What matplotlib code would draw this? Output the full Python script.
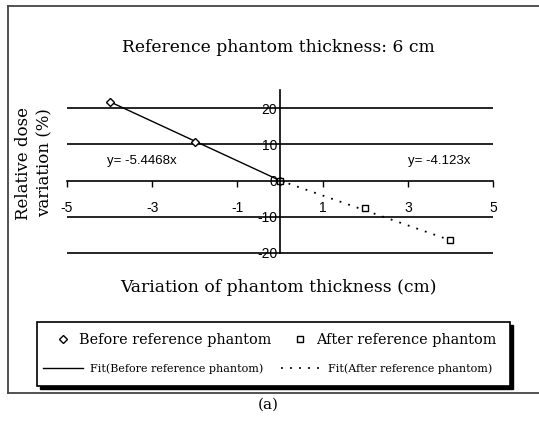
import matplotlib
matplotlib.use("Agg")
import numpy as np
import matplotlib.pyplot as plt
from matplotlib.patches import Rectangle
from matplotlib.lines import Line2D

# data
before_x = [-4, -2, 0]
before_y = [21.8, 10.6, 0]
after_x = [0, 2, 4]
after_y = [0, -7.7, -16.3]
slope_before = -5.4468
slope_after = -4.123
xticks = [-5, -3, -1, 1, 3, 5]
yticks = [-20, -10, 0, 10, 20]
gridlines = [-20, -10, 10, 20]

W, H = 539, 422
fig = plt.figure(figsize=(W / 100, H / 100), dpi=100)

def fx(px):
    return px / W

def fy(py):
    return 1 - py / H

serif = ['DejaVu Serif']
narrow = ['Liberation Sans', 'DejaVu Sans']

# outer border (left, top, bottom only)
fig.add_artist(Line2D([fx(8), 1.0], [fy(6), fy(6)], color='#444444', lw=1.3))
fig.add_artist(Line2D([fx(8), fx(8)], [fy(6), fy(393)], color='#444444', lw=1.3))
fig.add_artist(Line2D([fx(8), 1.0], [fy(393), fy(393)], color='#444444', lw=1.3))

ax = fig.add_axes([fx(67), fy(253), fx(493) - fx(67), fy(90) - fy(253)])
ax.set_xlim(-5, 5)
ax.set_ylim(-20, 25)

ax.spines['top'].set_visible(False)
ax.spines['right'].set_visible(False)
ax.spines['left'].set_position(('data', 0))
ax.spines['bottom'].set_position(('data', 0))
ax.spines['left'].set_linewidth(1.2)
ax.spines['bottom'].set_linewidth(1.2)
ax.patch.set_alpha(0)

ax.hlines(gridlines, -5, 5, color='black', lw=1.2, clip_on=False)

ax.set_xticks(xticks)
ax.set_xticklabels([str(t) for t in xticks], family=narrow, fontsize=10)
ax.tick_params(axis='x', direction='out', length=4, width=1, pad=11)
ax.set_yticks(yticks)
ax.set_yticklabels([str(t) for t in yticks], family=narrow, fontsize=10)
ax.tick_params(axis='y', length=0, pad=2)

# fits
xb = np.array([min(before_x), max(before_x)])
xa = np.array([min(after_x), max(after_x)])
fit_b, = ax.plot(xb, slope_before * xb, color='black', lw=1, clip_on=False)
fit_a, = ax.plot(xa, slope_after * xa, color='black', lw=1.3, ls=(0, (1, 4)), clip_on=False)
pts_b, = ax.plot(before_x, before_y, ls='none', marker='D', ms=4.5, mfc='white',
                 mec='black', mew=1, clip_on=False)
pts_a, = ax.plot(after_x, after_y, ls='none', marker='s', ms=4, mfc='white',
                 mec='black', mew=1, clip_on=False)

ax.text(-3.25, 5.5, 'y= -5.4468x', family=narrow, fontsize=9.5, ha='center', va='center')
ax.text(3.73, 5.3, 'y= -4.123x', family=narrow, fontsize=9.5, ha='center', va='center')

fig.text(fx(278), fy(47), 'Reference phantom thickness: 6 cm', family=serif,
         fontsize=12.3, ha='center', va='center')
fig.text(fx(278), fy(287), 'Variation of phantom thickness (cm)', family=serif,
         fontsize=12.3, ha='center', va='center')
fig.text(fx(34), fy(163), 'Relative dose\nvariation (%)', family=serif, fontsize=12,
         ha='center', va='center', rotation=90, linespacing=1.3)
fig.text(fx(268), fy(405), '(a)', family=serif, fontsize=11, ha='center', va='center')

# legend frame with shadow
fig.add_artist(Rectangle((fx(40), fy(389)), fx(473), fy(0) - fy(64),
                         transform=fig.transFigure, facecolor='black', edgecolor='black'))
fig.add_artist(Rectangle((fx(37), fy(386)), fx(473), fy(0) - fy(64),
                         transform=fig.transFigure, facecolor='white', edgecolor='black', lw=1.2))

leg1 = fig.legend([pts_b, pts_a], ['Before reference phantom', 'After reference phantom'],
                  ncol=2, frameon=False, loc='center left', bbox_to_anchor=(fx(49), fy(340)),
                  borderaxespad=0, prop={'family': serif, 'size': 10.4}, handlelength=1.2,
                  columnspacing=1.4, handletextpad=0.5)
leg2 = fig.legend([fit_b, fit_a], ['Fit(Before reference phantom)', 'Fit(After reference phantom)'],
                  ncol=2, frameon=False, loc='center left', bbox_to_anchor=(fx(39), fy(369)),
                  borderaxespad=0, prop={'family': serif, 'size': 8}, handlelength=3.6,
                  columnspacing=1.6, handletextpad=0.6)

fig.savefig('out.png', dpi=100)
